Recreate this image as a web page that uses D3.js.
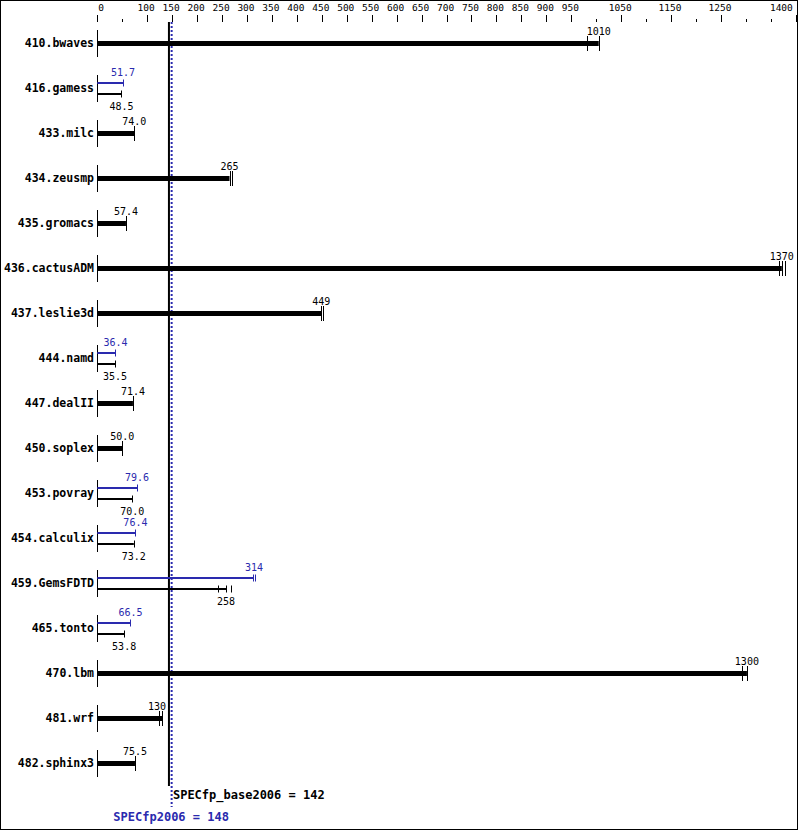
<!DOCTYPE html>
<html><head><meta charset="utf-8">
<script src="https://cdn.jsdelivr.net/npm/d3@7"></script>
<style>body{margin:0;background:#fff}svg{display:block}</style>
</head><body>
<script>
const benchmarks = ["410.bwaves","416.gamess","433.milc","434.zeusmp","435.gromacs","436.cactusADM","437.leslie3d","444.namd","447.dealII","450.soplex","453.povray","454.calculix","459.GemsFDTD","465.tonto","470.lbm","481.wrf","482.sphinx3"];
const baseValues = [1005,48.5,74.0,265,57.4,1372,449,35.5,71.4,50.0,70.0,73.2,258,53.8,1302,130,75.5];
const baseLabels = ["1010","48.5","74.0","265","57.4","1370","449","35.5","71.4","50.0","70.0","73.2","258","53.8","1300","130","75.5"];
const baseRuns = [[981,1005],[48.5],[74.0],[265,270],[57.4],[1367,1372,1378],[449,453],[35.5],[71.4],[50.0],[70.0],[73.2],[241,258,268],[53.8],[1292,1302],[123,130],[75.5]];
const peakValues = [null,51.7,null,null,null,null,null,36.4,null,null,79.6,76.4,314,66.5,null,null,null];
const peakLabels = [null,"51.7",null,null,null,null,null,"36.4",null,null,"79.6","76.4","314","66.5",null,null,null];
const peakRuns = [null,[51.7],null,null,null,null,null,[36.4],null,null,[79.6],[76.4],[313,316],[66.5],null,null,null];
const tickMajor = [0,100,150,200,250,300,350,400,450,500,550,600,650,700,750,800,850,900,950,1050,1150,1250,1400];
const tickMinor = [50,1000,1100,1200,1300,1350];
const specBase = 142, specPeak = 148;

const W=799,H=831, blue="#2a2aae";
const svg=d3.select("body").append("svg").attr("width",W).attr("height",H);
svg.append("rect").attr("x",0.5).attr("y",0.5).attr("width",797).attr("height",829).attr("fill","none").attr("stroke","#000");
const x=d3.scaleLinear().domain([0,1400]).range([97.3,795.8]);
const y=d3.scalePoint().domain(benchmarks).range([43,763]);
const mono="DejaVu Sans Mono, monospace";
const px=v=>Math.round(x(v))+0.5;
const lineX=x(specBase)+0.8;

// axis ticks
const g=svg.append("g");
g.selectAll(".maj").data(tickMajor).join("line").attr("x1",px).attr("x2",px).attr("y1",15).attr("y2",22).attr("stroke","#000");
g.selectAll(".min").data(tickMinor).join("line").attr("x1",px).attr("x2",px).attr("y1",19).attr("y2",22).attr("stroke","#000");
g.selectAll(".tl").data(tickMajor).join("text")
 .attr("x",d=>d===0?x(d)+1:d===1400?x(d)-3:x(d)-1)
 .attr("y",10.5).attr("text-anchor",d=>d===0?"start":d===1400?"end":"middle")
 .attr("font-family",mono).attr("font-size","9.5px").text(d=>d);

// mean lines
svg.append("line").attr("x1",lineX).attr("x2",lineX).attr("y1",22).attr("y2",786).attr("stroke","#000").attr("stroke-width",2);
svg.append("line").attr("x1",x(specPeak)+0.5).attr("x2",x(specPeak)+0.5).attr("y1",22).attr("y2",807).attr("stroke",blue).attr("stroke-width",2).attr("stroke-dasharray","2,2");
svg.append("text").attr("x",lineX+4).attr("y",799).attr("font-family",mono).attr("font-weight","bold").attr("font-size","12px").text("SPECfp_base2006 = "+specBase);
svg.append("text").attr("x",x(specPeak)).attr("y",821).attr("text-anchor","middle").attr("fill",blue).attr("font-family",mono).attr("font-weight","bold").attr("font-size","12px").text("SPECfp2006 = "+specPeak);

const labelX=(v,txt)=>{
  const cx=x(v), half=txt.length*3;
  if(cx+half>lineX-3 && cx-half<lineX+3) return cx-( (cx+half)-(lineX-3) );
  return cx;
};

benchmarks.forEach((b,i)=>{
  const c=y(b);
  const row=svg.append("g");
  row.append("text").attr("x",94).attr("y",c+4).attr("text-anchor","end").attr("font-family",mono).attr("font-weight","bold").attr("font-size","11.5px").text(b);
  row.append("line").attr("x1",px(0)).attr("x2",px(0)).attr("y1",c-13).attr("y2",c+14).attr("stroke","#000");
  if(peakValues[i]==null){
    row.append("rect").attr("x",x(0)).attr("y",c-2).attr("width",x(baseValues[i])-x(0)).attr("height",5).attr("fill","#000");
    baseRuns[i].forEach(r=>row.append("line").attr("x1",px(r)).attr("x2",px(r)).attr("y1",c-7).attr("y2",c+8).attr("stroke","#000"));
    row.append("text").attr("x",labelX(baseValues[i],baseLabels[i])).attr("y",c-8.5).attr("text-anchor","middle").attr("font-family",mono).attr("font-size","10px").text(baseLabels[i]);
  } else {
    const yp=c-5, yb=c+6;
    row.append("rect").attr("x",x(0)).attr("y",yp-1).attr("width",x(peakValues[i])-x(0)).attr("height",2).attr("fill",blue);
    peakRuns[i].forEach(r=>row.append("line").attr("x1",px(r)).attr("x2",px(r)).attr("y1",yp-3.5).attr("y2",yp+3.5).attr("stroke",blue));
    row.append("text").attr("x",x(peakValues[i])).attr("y",c-12.5).attr("text-anchor","middle").attr("fill",blue).attr("font-family",mono).attr("font-size","10px").text(peakLabels[i]);
    row.append("rect").attr("x",x(0)).attr("y",yb-1).attr("width",x(baseValues[i])-x(0)).attr("height",2).attr("fill","#000");
    baseRuns[i].forEach(r=>row.append("line").attr("x1",px(r)).attr("x2",px(r)).attr("y1",yb-3.5).attr("y2",yb+3.5).attr("stroke","#000"));
    row.append("text").attr("x",x(baseValues[i])).attr("y",c+21.5).attr("text-anchor","middle").attr("font-family",mono).attr("font-size","10px").text(baseLabels[i]);
  }
});
</script>
</body></html>
